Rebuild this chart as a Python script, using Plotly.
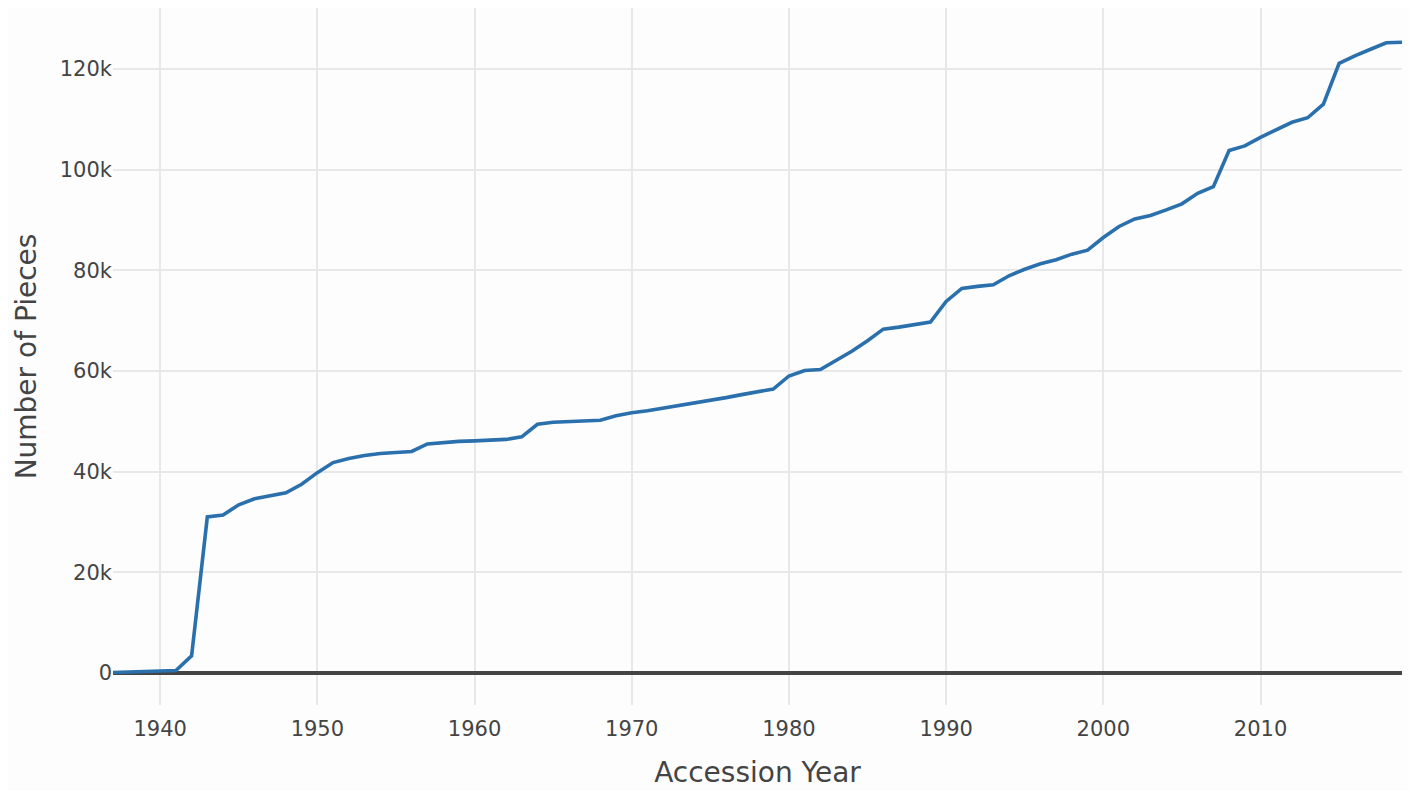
import plotly.graph_objects as go

years = list(range(1937, 2020))
pieces = [
    100, 200, 300, 400, 500, 3400, 31000, 31400, 33400, 34600,
    35200, 35800, 37500, 39800, 41800, 42600, 43200, 43600, 43800, 44000,
    45500, 45800, 46000, 46100, 46300, 46400, 46900, 49400, 49800, 49900,
    50000, 50200, 51100, 51700, 52100, 52600, 53100, 53600, 54200, 54700,
    55300, 55800, 56400, 59000, 60100, 60300, 62000, 63900, 66000, 68300,
    68700, 69200, 69700, 73800, 76400, 76800, 77100, 78900, 80200, 81300,
    82100, 83200, 84000, 86500, 88700, 90200, 90900, 92000, 93200, 95300,
    96600, 103800, 104700, 106400, 107900, 109400, 110300, 113000, 121100, 122600,
    123900, 125200, 125300,
]
x_ticks = [1940, 1950, 1960, 1970, 1980, 1990, 2000, 2010]
y_ticks = [0, 20000, 40000, 60000, 80000, 100000, 120000]
y_tick_text = ["0", "20k", "40k", "60k", "80k", "100k", "120k"]

fig = go.Figure(
    go.Scatter(x=years, y=pieces, mode="lines",
               line=dict(color="#2a70ac", width=3.6), showlegend=False)
)
fig.update_layout(
    width=1409, height=783,
    margin=dict(l=105, r=15, t=0, b=86),
    paper_bgcolor="#fdfdfe", plot_bgcolor="#fdfdfe",
    font=dict(family="DejaVu Sans, Verdana, sans-serif", color="#444", size=21),
)
fig.update_xaxes(
    range=[1937, 2019], tickvals=x_ticks, showgrid=True, gridcolor="#e8e8ea",
    gridwidth=2, zeroline=False, showline=False, ticks="",
    tickfont=dict(size=21), ticklabelstandoff=9,
    title=dict(text="Accession Year", font=dict(size=28), standoff=22),
)
fig.update_yaxes(
    range=[-6360, 132100], tickvals=y_ticks, ticktext=y_tick_text,
    showgrid=True, gridcolor="#e8e8ea", gridwidth=2,
    zeroline=True, zerolinecolor="#444", zerolinewidth=3.6,
    showline=False, ticks="", tickfont=dict(size=21),
    title=dict(text="Number of Pieces", font=dict(size=28), standoff=14),
)
fig.write_html("out.html")
